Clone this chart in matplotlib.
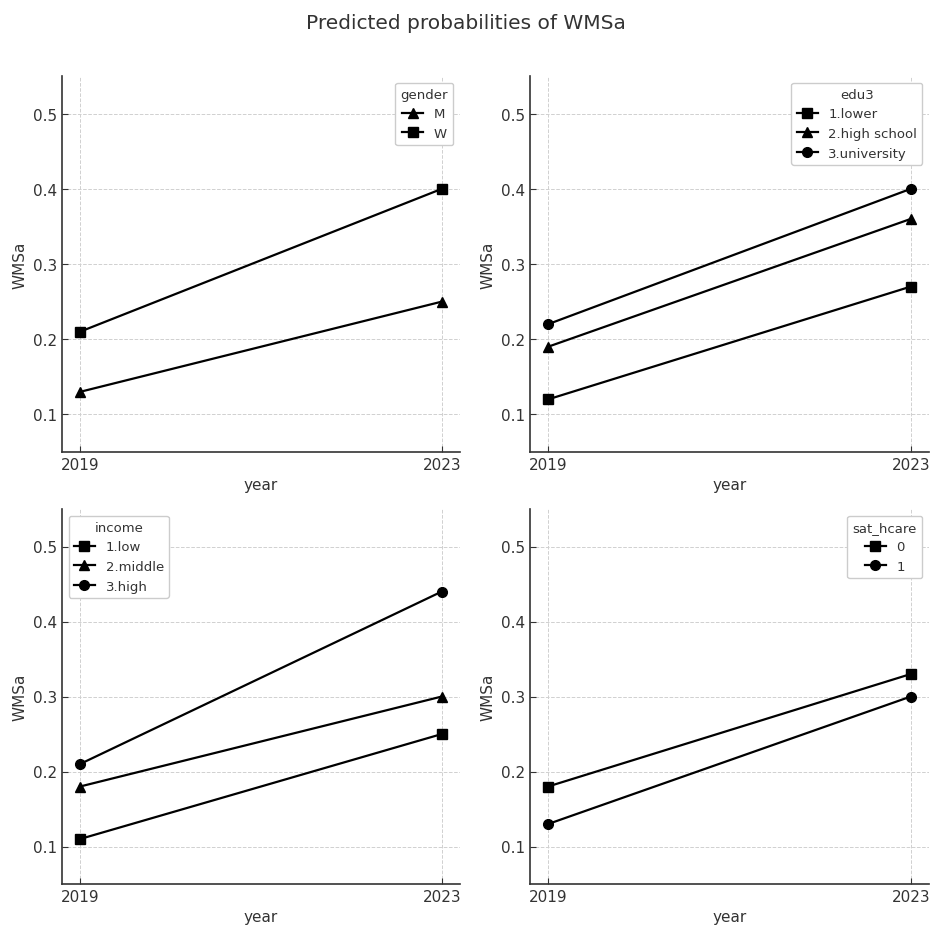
import matplotlib
matplotlib.use('Agg')
import matplotlib.pyplot as plt

years = [2019, 2023]

gender_labels = ['M', 'W']
gender_vals = [[0.13, 0.25], [0.21, 0.40]]
gender_markers = ['^', 's']

edu_labels = ['1.lower', '2.high school', '3.university']
edu_vals = [[0.12, 0.27], [0.19, 0.36], [0.22, 0.40]]
edu_markers = ['s', '^', 'o']

income_labels = ['1.low', '2.middle', '3.high']
income_vals = [[0.11, 0.25], [0.18, 0.30], [0.21, 0.44]]
income_markers = ['s', '^', 'o']

sat_labels = ['0', '1']
sat_vals = [[0.18, 0.33], [0.13, 0.30]]
sat_markers = ['s', 'o']

panels = [
    ('gender', gender_labels, gender_vals, gender_markers, 'upper right'),
    ('edu3', edu_labels, edu_vals, edu_markers, 'upper right'),
    ('income', income_labels, income_vals, income_markers, 'upper left'),
    ('sat_hcare', sat_labels, sat_vals, sat_markers, 'upper right'),
]

TXT = '#333333'
plt.rcParams['text.color'] = TXT
plt.rcParams['axes.labelcolor'] = TXT
plt.rcParams['xtick.color'] = TXT
plt.rcParams['ytick.color'] = TXT

fig = plt.figure(figsize=(9.31, 9.29), dpi=100)
W, H = 931, 929
boxes = [(62, 77, 460, 453), (530, 77, 929, 453),
         (62, 510, 460, 885), (530, 510, 929, 885)]

for (title, labels, vals, markers, loc), (x0, y0, x1, y1) in zip(panels, boxes):
    ax = fig.add_axes([x0 / W, 1 - y1 / H, (x1 - x0) / W, (y1 - y0) / H])
    for lab, v, m in zip(labels, vals, markers):
        ax.plot(years, v, color='black', marker=m, markersize=7, linewidth=1.6, label=lab)
    ax.set_xlim(2018.8, 2023.2)
    ax.set_ylim(0.05, 0.55)
    ax.set_xticks(years)
    ax.set_yticks([0.1, 0.2, 0.3, 0.4, 0.5])
    ax.tick_params(direction='in', labelsize=11, length=4)
    ax.set_xlabel('year', fontsize=11)
    ax.set_ylabel('WMSa', fontsize=11)
    ax.grid(True, linestyle='--', color='#d0d0d0', linewidth=0.7)
    ax.set_axisbelow(True)
    for s in ['top', 'right']:
        ax.spines[s].set_visible(False)
    for s in ['left', 'bottom']:
        ax.spines[s].set_color('#333333')
        ax.spines[s].set_linewidth(1.2)
    leg = ax.legend(title=title, loc=loc, fontsize=9.5, title_fontsize=9.5,
                    handlelength=1.6, frameon=True, framealpha=1)
    leg.get_frame().set_edgecolor('#cccccc')

fig.suptitle('Predicted probabilities of WMSa', fontsize=14.5, y=0.985, color=TXT)
fig.savefig('out.png', dpi=100)
